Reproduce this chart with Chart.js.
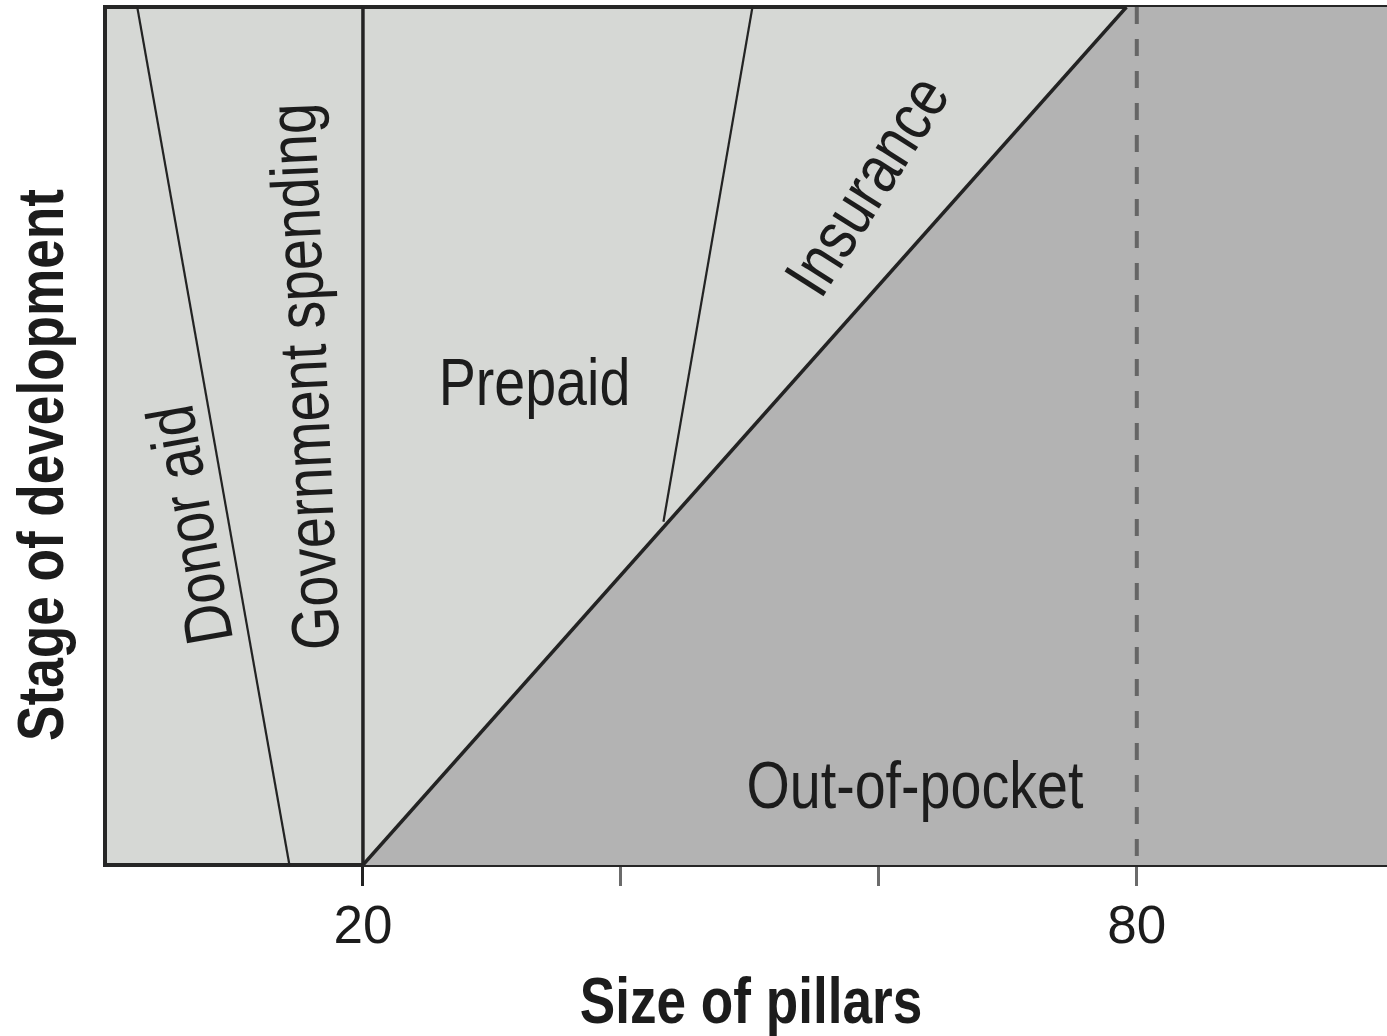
<!DOCTYPE html>
<html>
<head>
<meta charset="utf-8">
<title>Size of pillars by stage of development</title>
<script src="https://cdn.jsdelivr.net/npm/chart.js@4.4.1/dist/chart.umd.min.js"></script>
<style>
  html, body { margin: 0; padding: 0; background: #ffffff; }
  #chart { display: block; }
</style>
</head>
<body>
<canvas id="chart" width="1387" height="1036"></canvas>
<script>
// --- Axis ticks (size of pillars) ---
const tickValues = [20, 40, 60, 80];
const tickLabels = ["20", "", "", "80"];

// --- Boundary lines (x = size of pillars, y = stage of development) ---
const donorEdgeX = [2.5, 14.3];
const donorEdgeY = [100, 0];

const govEdgeX = [20, 20];
const govEdgeY = [0, 100];

const insuranceEdgeX = [50.2, 43.3];
const insuranceEdgeY = [100, 40];

const diagonalX = [20, 79.2];
const diagonalY = [0, 100];

const markerX = [80, 80];
const markerY = [100, 0];

// out-of-pocket area: below the diagonal, up to the end of the axis
const pocketAreaX = [20, 79.2, 99.4];
const pocketAreaY = [0, 100, 100];

const regionNames = ["Donor aid", "Government spending", "Prepaid", "Insurance", "Out-of-pocket"];
const xTitle = "Size of pillars";
const yTitle = "Stage of development";

// ------------------------------------------------------------------

// Narrow face if installed, otherwise squeeze the regular one
function fontAvailable(name) {
  const c = document.createElement("canvas").getContext("2d");
  const sample = "Stage of development 2080";
  c.font = "40px monospace";
  const base = c.measureText(sample).width;
  c.font = `40px "${name}", monospace`;
  return c.measureText(sample).width !== base;
}

const NARROW = fontAvailable("Liberation Sans Narrow");
const FAMILY = NARROW
  ? '"Liberation Sans Narrow", "Liberation Sans", Arial, sans-serif'
  : '"Liberation Sans", Arial, sans-serif';
const SQUEEZE = NARROW ? 1 : 0.83;
const TICK_SIZE = NARROW ? 60 : 53;
const LABEL_SIZE = 67;
const TITLE_SIZE = 64;
const INK = "#1c1c1c";

// where each region name sits (data units) and its angle in degrees
const labelAnchors = [
  { x: 6.5, y: 39.6, angle: -99.9 },
  { x: 15.35, y: 56.9, angle: -92.6 },
  { x: 33.3, y: 56.4, angle: 0 },
  { x: 59.0, y: 79.3, angle: -57.6 },
  { x: 62.8, y: 9.4, angle: 0 },
];

const toPoints = (xs, ys) => xs.map((v, i) => ({ x: v, y: ys[i] }));

function edge(xs, ys, width, extra) {
  return Object.assign(
    {
      data: toPoints(xs, ys),
      borderColor: "#232323",
      borderWidth: width,
      pointRadius: 0,
      tension: 0,
      fill: false,
      order: 0,
    },
    extra || {}
  );
}

// condensed text centred on (px, py), cap height centred
function squeezedText(ctx, text, px, py, angleDeg, size, weight) {
  ctx.save();
  ctx.font = `${weight} ${size}px ${FAMILY}`;
  ctx.textAlign = "center";
  ctx.textBaseline = "alphabetic";
  ctx.translate(px, py);
  ctx.rotate((angleDeg * Math.PI) / 180);
  ctx.scale(SQUEEZE, 1);
  ctx.fillText(text, 0, size * 0.358);
  ctx.restore();
}

// light grey plot background
const plotBackground = {
  id: "plotBackground",
  beforeDraw(chart) {
    const { ctx, chartArea: a } = chart;
    ctx.save();
    ctx.fillStyle = "#d6d8d5";
    ctx.fillRect(a.left, a.top, a.right - a.left, a.bottom - a.top);
    ctx.restore();
  },
};

// names inside each region + the two axis titles
const textLayer = {
  id: "textLayer",
  afterDraw(chart) {
    const { ctx, scales, chartArea: a } = chart;
    ctx.save();
    ctx.fillStyle = INK;
    regionNames.forEach((name, i) => {
      const p = labelAnchors[i];
      squeezedText(
        ctx,
        name,
        scales.x.getPixelForValue(p.x),
        scales.y.getPixelForValue(p.y),
        p.angle,
        LABEL_SIZE,
        "normal"
      );
    });
    squeezedText(ctx, xTitle, (a.left + a.right) / 2 + 5, chart.height - 36, 0, TITLE_SIZE, "bold");
    squeezedText(ctx, yTitle, 40, (a.top + a.bottom) / 2 + 29, -90, TITLE_SIZE, "bold");
    ctx.restore();
  },
};

new Chart(document.getElementById("chart"), {
  type: "line",
  data: {
    datasets: [
      edge(donorEdgeX, donorEdgeY, 2.2),
      edge(govEdgeX, govEdgeY, 3.5),
      edge(insuranceEdgeX, insuranceEdgeY, 2.2),
      edge(diagonalX, diagonalY, 3.5),
      edge(markerX, markerY, 4, { borderColor: "#666666", borderDash: [17, 15] }),
      edge(pocketAreaX, pocketAreaY, 0, {
        fill: "origin",
        backgroundColor: "#b3b3b3",
        order: 1,
      }),
    ],
  },
  options: {
    responsive: false,
    animation: false,
    layout: { padding: { top: 7, left: 0, right: 0, bottom: 0 } },
    plugins: {
      legend: { display: false },
      tooltip: { enabled: false },
    },
    scales: {
      x: {
        type: "linear",
        position: "bottom",
        min: 0,
        max: 99.4,
        afterBuildTicks: (axis) => {
          axis.ticks = tickValues.map((v) => ({ value: v }));
        },
        afterFit: (axis) => {
          axis.height = 171;
        },
        grid: {
          display: true,
          drawOnChartArea: false,
          drawTicks: true,
          tickLength: 21,
          tickWidth: 3,
          tickColor: (c) => (c.tick && c.tick.value === 20 ? "#222222" : "#6b6b6b"),
        },
        border: { display: true, color: "#262626", width: 4 },
        ticks: {
          autoSkip: false,
          maxRotation: 0,
          padding: 11,
          color: INK,
          font: { family: FAMILY, size: TICK_SIZE },
          callback: (v) => {
            const i = tickValues.indexOf(v);
            return i >= 0 ? tickLabels[i] : "";
          },
        },
        title: { display: false },
      },
      xTop: {
        type: "linear",
        position: "top",
        min: 0,
        max: 99.4,
        afterFit: (axis) => {
          axis.height = 0;
        },
        grid: { display: false },
        ticks: { display: false },
        border: { display: true, color: "#262626", width: 4 },
      },
      y: {
        type: "linear",
        min: 0,
        max: 100,
        afterFit: (axis) => {
          axis.width = 105;
        },
        grid: { display: false },
        ticks: { display: false },
        border: { display: true, color: "#262626", width: 4 },
        title: { display: false },
      },
    },
  },
  plugins: [plotBackground, textLayer],
});
</script>
</body>
</html>
